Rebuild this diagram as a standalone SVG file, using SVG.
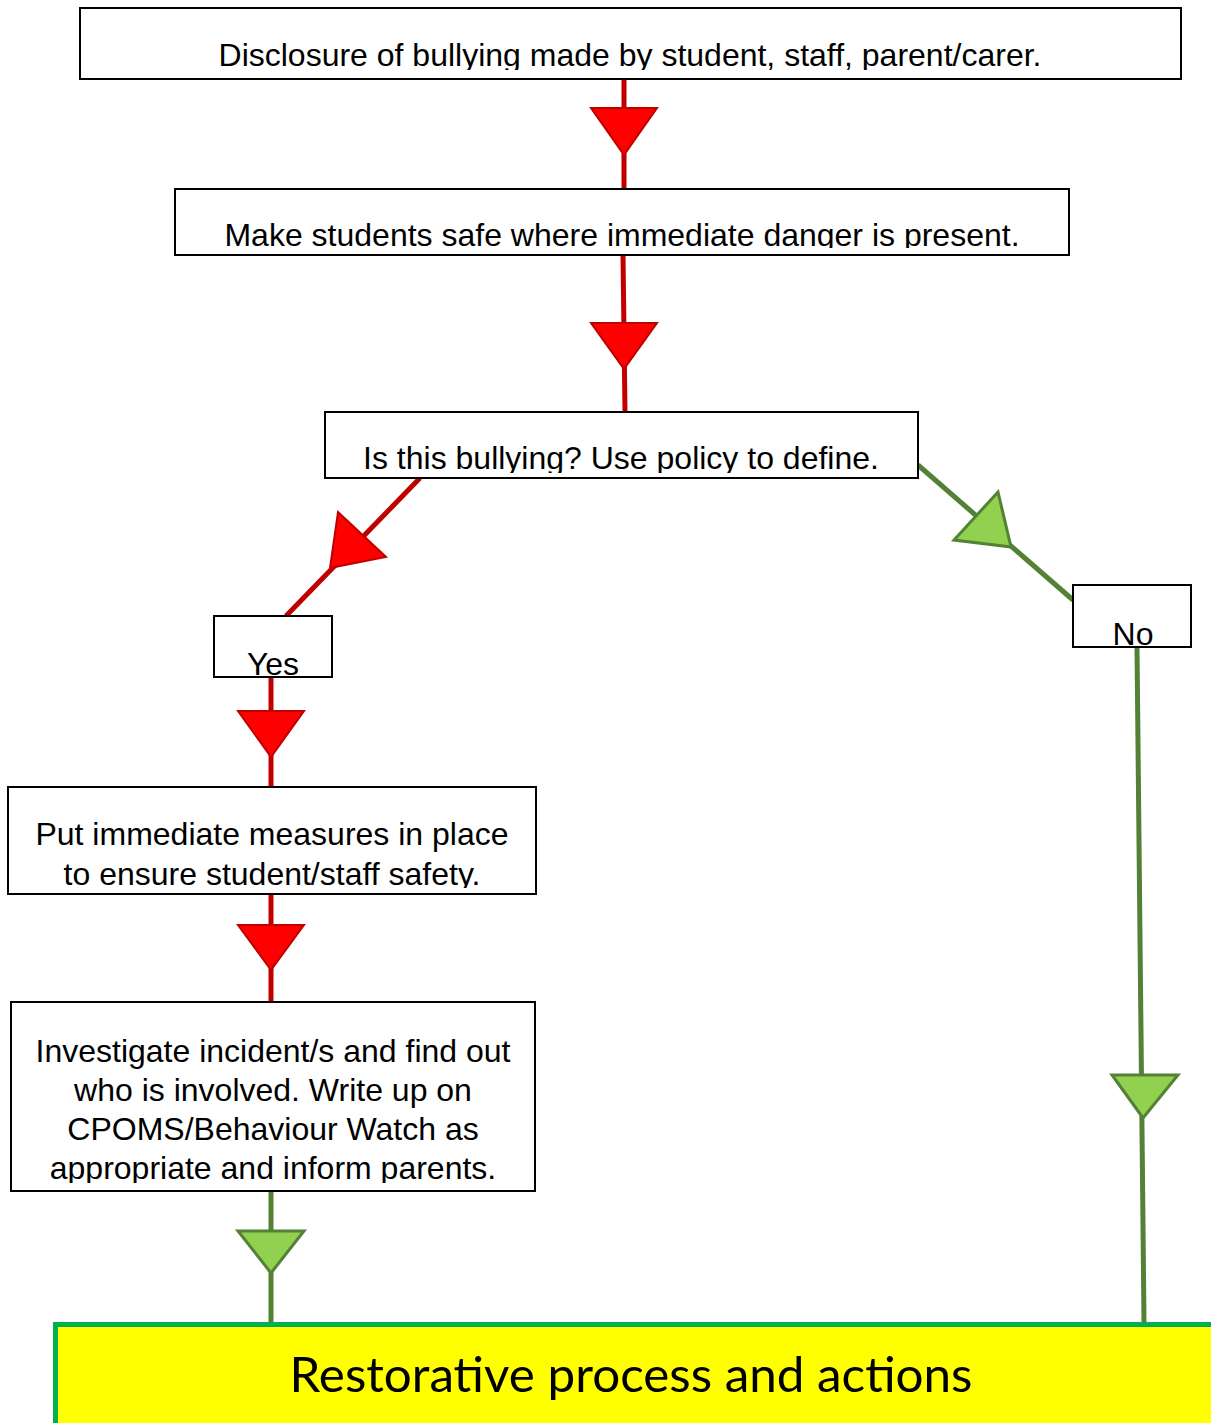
<svg xmlns="http://www.w3.org/2000/svg" width="1211" height="1423" viewBox="0 0 1211 1423">
<style>
.box{fill:#ffffff;stroke:#000000;stroke-width:2}
.t{font-family:"Liberation Sans",Arial,sans-serif;font-size:32px;fill:#000000;text-anchor:middle}
.rl{stroke:#c00000;stroke-width:5;fill:none}
.gl{stroke:#538135;stroke-width:5;fill:none}
.rh{fill:#ff0000;stroke:#c00000;stroke-width:2;stroke-linejoin:miter}
.gh{fill:#92d050;stroke:#538135;stroke-width:3;stroke-linejoin:miter}
</style>
<defs>
<clipPath id="c1"><rect x="80" y="8" width="1101" height="62"/></clipPath>
<clipPath id="c2"><rect x="175" y="189" width="894" height="59"/></clipPath>
<clipPath id="c3"><rect x="325" y="412" width="593" height="61"/></clipPath>
<clipPath id="c4"><rect x="214" y="616" width="118" height="60"/></clipPath>
<clipPath id="c5"><rect x="1073" y="585" width="118" height="61"/></clipPath>
<clipPath id="c6"><rect x="8" y="787" width="528" height="101"/></clipPath>
<clipPath id="c7"><rect x="11" y="1002" width="524" height="181"/></clipPath>
</defs>
<rect width="1211" height="1423" fill="#ffffff"/>
<g id="connectors">
<line class="rl" x1="624" y1="79" x2="624" y2="189"/>
<polygon class="rh" points="591,108 657,108 624,155"/>
<line class="rl" x1="623" y1="255" x2="625" y2="412"/>
<polygon class="rh" points="591,323 657,323 624,369"/>
<line class="rl" x1="420" y1="478" x2="286" y2="616"/>
<polygon class="rh" points="338,512 386,557 330,568"/>
<line class="rl" x1="271" y1="677" x2="271" y2="787"/>
<polygon class="rh" points="238,711 304,711 271,757"/>
<line class="rl" x1="271" y1="894" x2="271" y2="1002"/>
<polygon class="rh" points="238,925 304,925 271,970"/>
<line class="gl" x1="918" y1="465" x2="1073" y2="600"/>
<polygon class="gh" points="998,492 954,540 1011,547"/>
<line class="gl" x1="1137" y1="647" x2="1144" y2="1322"/>
<polygon class="gh" points="1112,1075 1178,1075 1143,1118"/>
<line class="gl" x1="271" y1="1191" x2="271" y2="1322"/>
<polygon class="gh" points="238,1231 304,1231 271,1273"/>
</g>
<g id="node-disclosure">
<rect class="box" x="80" y="8" width="1101" height="71"/>
<text class="t" x="630" y="66" clip-path="url(#c1)">Disclosure of bullying made by student, staff, parent/carer.</text>
</g>
<g id="node-safe">
<rect class="box" x="175" y="189" width="894" height="66"/>
<text class="t" x="622" y="246" clip-path="url(#c2)">Make students safe where immediate danger is present.</text>
</g>
<g id="node-isbullying">
<rect class="box" x="325" y="412" width="593" height="66"/>
<text class="t" x="621" y="469" clip-path="url(#c3)">Is this bullying? Use policy to define.</text>
</g>
<g id="node-yes">
<rect class="box" x="214" y="616" width="118" height="61"/>
<text class="t" x="273" y="675" clip-path="url(#c4)">Yes</text>
</g>
<g id="node-no">
<rect class="box" x="1073" y="585" width="118" height="62"/>
<text class="t" x="1133" y="645" clip-path="url(#c5)">No</text>
</g>
<g id="node-measures">
<rect class="box" x="8" y="787" width="528" height="107"/>
<g clip-path="url(#c6)">
<text class="t" x="272" y="845">Put immediate measures in place</text>
<text class="t" x="272" y="885">to ensure student/staff safety.</text>
</g>
</g>
<g id="node-investigate">
<rect class="box" x="11" y="1002" width="524" height="189"/>
<g clip-path="url(#c7)">
<text class="t" x="273" y="1062">Investigate incident/s and find out</text>
<text class="t" x="273" y="1101">who is involved. Write up on</text>
<text class="t" x="273" y="1140">CPOMS/Behaviour Watch as</text>
<text class="t" x="273" y="1179">appropriate and inform parents.</text>
</g>
</g>
<g id="node-restorative">
<rect x="55.5" y="1324.5" width="1170" height="120" fill="#ffff00" stroke="#00b050" stroke-width="5"/>
<text x="631" y="1392" font-family="Lato,'Open Sans',sans-serif" font-size="49" fill="#000000" text-anchor="middle" textLength="683" lengthAdjust="spacingAndGlyphs">Restorative process and actions</text>
</g>
</svg>
